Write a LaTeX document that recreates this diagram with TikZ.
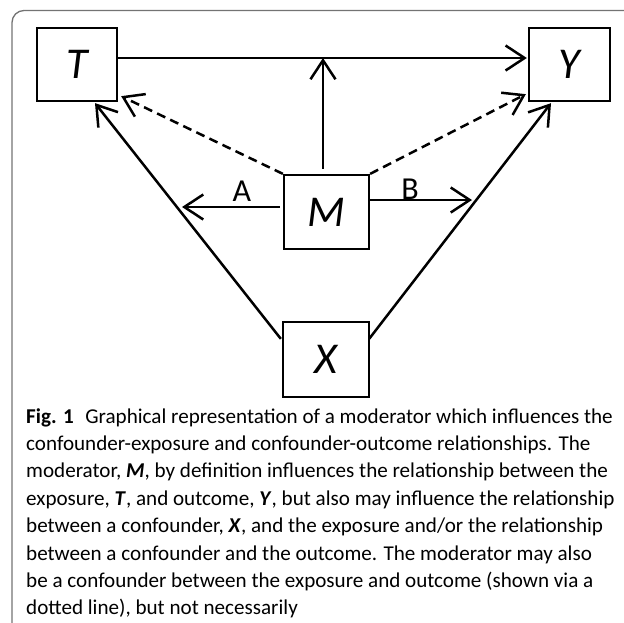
\documentclass[tikz,border=0pt]{standalone}
\usepackage{fontspec}
\setmainfont{Carlito}
\usetikzlibrary{arrows.meta,calc}
\begin{document}
\begin{tikzpicture}[x=1pt,y=-1pt,
  box/.style={draw, line width=2.3pt, inner sep=0pt, minimum width=80pt, font=\fontsize{44}{44}\selectfont\itshape},
  conn/.style={line width=2.5pt, -{Straight Barb[length=19pt,width=25pt,line width=2.5pt]}},
  dconn/.style={conn, dash pattern=on 9pt off 5.5pt},
  lab/.style={font=\fontsize{32}{32}\selectfont, inner sep=0pt},
  captxt/.style={anchor=base west, inner sep=0pt, font=\fontsize{21.1}{21.1}\selectfont},
  outerframe/.style={draw=black!55, line width=1.3pt}]
\useasboundingbox (0,0) rectangle (624,622);
\draw[outerframe, rounded corners=12pt] (12,624) -- (12,10.5) -- (626,10.5);
\node[box, minimum height=73pt] (T) at (77,64.5) {T};
\node[box, minimum height=73pt, minimum width=81pt] (Y) at (569.5,64.5) {Y};
\node[box, minimum height=74pt, minimum width=85pt] (M) at (326.5,212) {M};
\node[box, minimum height=75pt, minimum width=86pt] (X) at (326,359.5) {X};
\coordinate (tl) at ([yshift=6.5pt]T.east);
\coordinate (yl) at ([yshift=6.5pt,xshift=-1pt]Y.west);
\coordinate (Aend) at (182,207);
\coordinate (Bend) at (472,200);
\draw[conn] (tl) -- (yl);
\draw[conn] ([xshift=-3.5pt,yshift=5pt]M.north) -- ([xshift=-3.5pt]M.north |- tl);
\draw[dconn] (M.north west) -- ([xshift=3pt,yshift=6pt]T.south east);
\draw[dconn] (M.north east) -- ([xshift=-2pt,yshift=8pt]Y.south west);
\draw[conn] ([xshift=-1pt,yshift=-18pt]X.north west) -- ([xshift=18pt,yshift=-1pt]T.south);
\draw[conn] ([xshift=-1pt,yshift=-18pt]X.north east) -- ([xshift=-18.5pt,yshift=-1pt]Y.south);
\draw[conn] ([xshift=-3pt,yshift=5pt]M.west) -- (Aend);
\draw[conn] ([yshift=12pt]M.east) -- (Bend);
\node[lab] (A) at (242,191) {A};
\node[lab] (B) at (410,189) {B};
\node[captxt] (c1) at (26,423) {\textbf{Fig. 1}\hspace{0.55em}Graphical representation of a moderator which influences the};
\node[captxt] (c2) at (26,450.4) {confounder-exposure and confounder-outcome relationships. The};
\node[captxt] (c3) at (26,477.8) {moderator, \textbf{\textit{M}}, by definition influences the relationship between the};
\node[captxt] (c4) at (26,505.2) {exposure, \textbf{\textit{T}}, and outcome, \textbf{\textit{Y}}, but also may influence the relationship};
\node[captxt] (c5) at (26,532.6) {between a confounder, \textbf{\textit{X}}, and the exposure and/or the relationship};
\node[captxt] (c6) at (26,560) {between a confounder and the outcome. The moderator may also};
\node[captxt] (c7) at (26,587.4) {be a confounder between the exposure and outcome (shown via a};
\node[captxt] (c8) at (26,614.8) {dotted line), but not necessarily};
\end{tikzpicture}
\end{document}
